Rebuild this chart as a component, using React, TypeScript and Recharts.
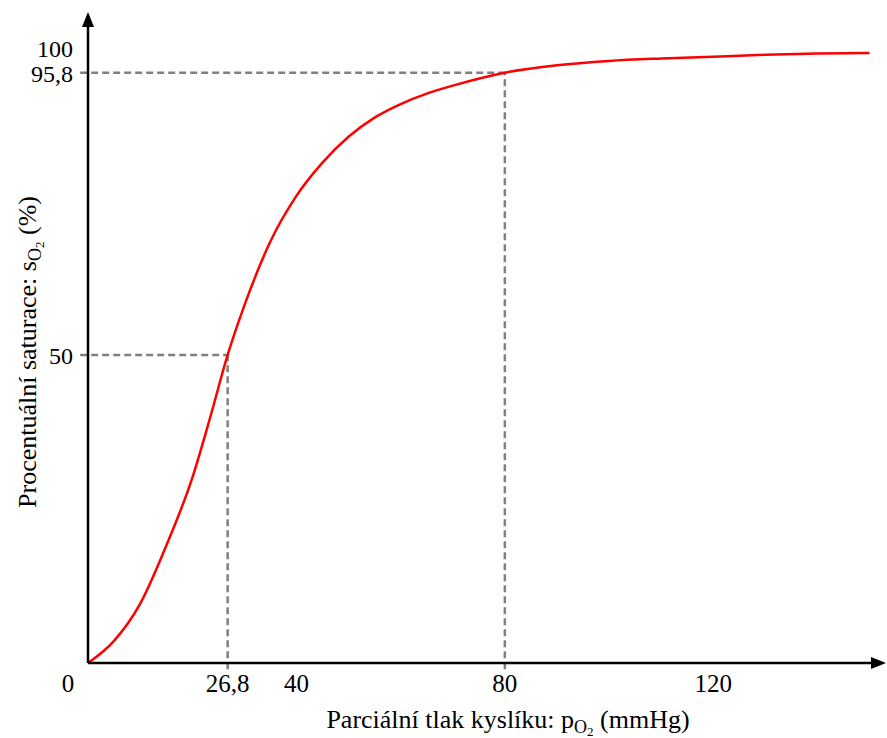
import { Customized, Line, LineChart, ReferenceLine, XAxis, YAxis } from "recharts";

// pO2 (mmHg) and saturation (%)
const po2 = [0, 5, 10, 15, 20, 23.5, 26.8, 30, 35, 40, 45, 50, 55, 60, 65, 70, 80, 90, 100, 110, 120, 130, 140, 150];
const so2 = [0, 3.6, 9.6, 19, 30, 40, 50, 58, 68.4, 75.8, 81.2, 85.4, 88.5, 90.7, 92.4, 93.7, 95.8, 97, 97.7, 98.1, 98.4, 98.7, 98.9, 99];

const xTicks = [0, 26.8, 40, 80, 120];
const yTicks = [50, 95.8, 100];

// dashed guides from the axes to the curve
const guideX = [26.8, 80];
const guideY = [50, 95.8];

const data = po2.map((p, i) => ({ po2: p, so2: so2[i] }));

const FONT = '"Liberation Serif", "Times New Roman", serif';
const fmt = (v: number) => String(v).replace(".", ",");

function XTick({ x, y, payload }: any) {
  const v = payload.value;
  return (
    <text x={v === 0 ? x - 20 : x} y={y + 21} textAnchor="middle" fontFamily={FONT} fontSize={25} fill="#000">
      {fmt(v)}
    </text>
  );
}

function YTick({ y, payload }: any) {
  const v = payload.value;
  return (
    <text x={73} y={y + (v === 100 ? 10 : 9)} textAnchor="end" fontFamily={FONT} fontSize={24} fill="#000">
      {fmt(v)}
    </text>
  );
}

function Decorations() {
  return (
    <g fontFamily={FONT} fill="#000">
      <polygon points="88,12 82,27 94,27" fill="#000" />
      <polygon points="886,663 871,657 871,669" fill="#000" />
      <text x={508} y={728} textAnchor="middle" fontSize={26}>
        Parciální tlak kyslíku: p
        <tspan fontSize={18} dy={5}>O</tspan>
        <tspan fontSize={13} dy={3}>2</tspan>
        <tspan dy={-8}> (mmHg)</tspan>
      </text>
      <text transform="translate(36,352) rotate(-90)" textAnchor="middle" fontSize={26}>
        Procentuální saturace: s
        <tspan fontSize={18} dy={5}>O</tspan>
        <tspan fontSize={13} dy={3}>2</tspan>
        <tspan dy={-8}> (%)</tspan>
      </text>
    </g>
  );
}

export default function App() {
  return (
    <div style={{ position: "absolute", left: 0, top: 0, width: 887, height: 738, overflow: "hidden", background: "#fff" }}>
      <LineChart width={887} height={738} data={data} margin={{ top: 16, right: 7, left: 28, bottom: 45 }}>
        <XAxis
          type="number"
          dataKey="po2"
          domain={[0, 152]}
          ticks={xTicks}
          interval={0}
          tick={<XTick />}
          tickLine={false}
          height={30}
          axisLine={{ stroke: "#000", strokeWidth: 2.5 }}
          allowDataOverflow
        />
        <YAxis
          type="number"
          domain={[0, 105]}
          ticks={yTicks}
          interval={0}
          tick={<YTick />}
          tickLine={false}
          width={60}
          axisLine={{ stroke: "#000", strokeWidth: 2.5 }}
          allowDataOverflow
        />
        {guideX.map((gx, i) => (
          <ReferenceLine
            key={"h" + i}
            segment={[{ x: -1.5, y: guideY[i] }, { x: gx, y: guideY[i] }]}
            stroke="#808080"
            strokeWidth={2.5}
            strokeDasharray="7 4"
            ifOverflow="visible"
          />
        ))}
        {guideX.map((gx, i) => (
          <ReferenceLine
            key={"v" + i}
            segment={[{ x: gx, y: -1 }, { x: gx, y: guideY[i] }]}
            stroke="#808080"
            strokeWidth={2.5}
            strokeDasharray="7 4"
            ifOverflow="visible"
          />
        ))}
        <Line type="monotone" dataKey="so2" stroke="#ff0000" strokeWidth={2.5} dot={false} isAnimationActive={false} />
        <Customized component={Decorations} />
      </LineChart>
    </div>
  );
}
